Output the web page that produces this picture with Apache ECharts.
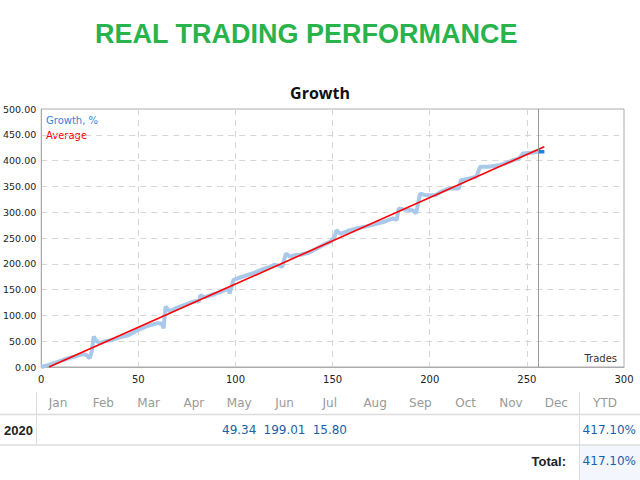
<!DOCTYPE html>
<html lang="en">
<head>
    <meta charset="UTF-8">
    <title>Growth</title>
    <script src="https://cdn.jsdelivr.net/npm/echarts@6/dist/echarts.min.js"></script>
    <style>
        html, body { margin: 0; padding: 0; background: #fff; }
        #main { width: 640px; height: 480px; }
    </style>
</head>
<body>
<div id="main"></div>
<script>
    // growth curve (trade number -> growth %)
    var tradeNo = [0, 4, 7, 10, 14, 18, 21, 23, 25, 26, 27, 28, 30, 33, 36, 40, 45, 50, 55, 60,
        62, 63, 64, 66, 70, 75, 78, 80, 81, 82, 84, 88, 92, 95, 96, 97, 99, 102, 106, 110,
        113, 117, 120, 123, 124, 126, 128, 131, 134, 138, 142, 146, 149, 150, 151, 152, 154, 158, 163, 168,
        173, 177, 181, 183, 184, 187, 191, 193, 195, 198, 203, 206, 210, 215, 216, 220, 224, 226, 230, 236,
        240, 243, 246, 248, 252, 256];
    var growthPct = [0, 4, 8, 12, 17, 21, 25, 24, 17, 30, 59, 52, 46, 50, 52, 57, 62, 72, 80, 85,
        84, 75, 117, 108, 115, 122, 126, 128, 126, 139, 135, 140, 145, 150, 152, 143, 169, 173, 178, 183,
        188, 193, 198, 196, 194, 220, 214, 217, 218, 222, 230, 238, 243, 248, 252, 265, 258, 264, 269, 273,
        278, 282, 288, 285, 307, 305, 304, 298, 336, 333, 333, 340, 346, 346, 362, 365, 369, 388, 388, 391,
        396, 401, 404, 414, 415, 417];
    // last (current) segment
    var lastTrades = [256, 259];
    var lastGrowth = [417, 417.1];
    // average trend line
    var avgTrades = [4, 259];
    var avgValues = [0, 427];
    var currentTrade = 256;

    // monthly table
    var months = ['Jan', 'Feb', 'Mar', 'Apr', 'May', 'Jun', 'Jul', 'Aug', 'Sep', 'Oct', 'Nov', 'Dec'];
    var year = '2020';
    var monthValues = [null, null, null, null, 49.34, 199.01, 15.80, null, null, null, null, null];
    var ytdValue = 417.10;
    var totalValue = 417.10;

    function pairs(xs, ys) {
        var out = [];
        for (var i = 0; i < xs.length; i++) out.push([xs[i], ys[i]]);
        return out;
    }

    var chart = echarts.init(document.getElementById('main'), null, {renderer: 'svg'});

    var tblFont = 'DejaVu Sans, Tahoma, sans-serif';
    var blue = '#1a5fa8';
    var graphics = [
        {type: 'text', left: 95, top: 20, style: {text: 'REAL TRADING PERFORMANCE', fill: '#28b34b',
            font: 'bold 27px "Liberation Sans", Arial, sans-serif'}},
        {type: 'text', x: 320, y: 93, style: {text: 'Growth', fill: '#111', textAlign: 'center', textVerticalAlign: 'middle',
            font: 'bold 16px "Open Sans", "DejaVu Sans", sans-serif'}},
        {type: 'text', x: 46, y: 120, style: {text: 'Growth, %', fill: '#3a7fd5', textVerticalAlign: 'middle',
            font: '10px ' + tblFont}},
        {type: 'text', x: 46, y: 135, style: {text: 'Average', fill: '#ff0000', textVerticalAlign: 'middle',
            font: '10px ' + tblFont}},
        {type: 'text', x: 617, y: 358, style: {text: 'Trades', fill: '#333', textAlign: 'right', textVerticalAlign: 'middle',
            font: '10px ' + tblFont}},
        // table lines
        {type: 'line', shape: {x1: 0, y1: 414.5, x2: 640, y2: 414.5}, style: {stroke: '#dcdcdc', lineWidth: 1.5}},
        {type: 'line', shape: {x1: 0, y1: 445, x2: 640, y2: 445}, style: {stroke: '#dcdcdc', lineWidth: 1.5}},
        {type: 'line', shape: {x1: 36.5, y1: 392, x2: 36.5, y2: 445}, style: {stroke: '#dcdcdc', lineWidth: 1}},
        {type: 'rect', shape: {x: 580, y: 446, width: 60, height: 34}, style: {fill: '#f3f6fc'}},
        {type: 'line', shape: {x1: 579.5, y1: 392, x2: 579.5, y2: 480}, style: {stroke: '#dcdcdc', lineWidth: 1}},
        {type: 'text', x: 605, y: 403, style: {text: 'YTD', fill: '#999', textAlign: 'center', textVerticalAlign: 'middle',
            font: '12px ' + tblFont}},
        {type: 'text', x: 4, y: 430, style: {text: year, fill: '#222', textVerticalAlign: 'middle',
            font: 'bold 13px "Liberation Sans", Arial, sans-serif'}},
        {type: 'text', x: 636, y: 430, style: {text: ytdValue.toFixed(2) + '%', fill: blue, textAlign: 'right', textVerticalAlign: 'middle',
            font: '12px ' + tblFont}},
        {type: 'text', x: 566, y: 461, style: {text: 'Total:', fill: '#222', textAlign: 'right', textVerticalAlign: 'middle',
            font: 'bold 13px "Liberation Sans", Arial, sans-serif'}},
        {type: 'text', x: 636, y: 461, style: {text: totalValue.toFixed(2) + '%', fill: blue, textAlign: 'right', textVerticalAlign: 'middle',
            font: '12px ' + tblFont}}
    ];
    months.forEach(function (m, i) {
        var cx = 58 + 45.3 * i;
        graphics.push({type: 'text', x: cx, y: 403, style: {text: m, fill: '#999', textAlign: 'center', textVerticalAlign: 'middle',
            font: '12px ' + tblFont}});
        if (monthValues[i] != null) {
            graphics.push({type: 'text', x: cx, y: 430, style: {text: monthValues[i].toFixed(2), fill: blue, textAlign: 'center',
                textVerticalAlign: 'middle', font: '12px ' + tblFont}});
        }
    });

    var option = {
        animation: false,
        backgroundColor: '#fff',
        grid: {left: 39, right: 16, top: 109, bottom: 113, show: true, borderColor: '#aaa', borderWidth: 1},
        xAxis: {
            type: 'value', min: 0, max: 300, interval: 50,
            axisLine: {show: true, lineStyle: {color: '#aaa'}},
            axisTick: {show: false},
            axisLabel: {color: '#222', fontSize: 10, fontFamily: tblFont, margin: 7},
            splitLine: {show: true, lineStyle: {color: '#d6d6d6', type: [6, 5]}}
        },
        yAxis: {
            type: 'value', min: 0, max: 500, interval: 50,
            axisLine: {show: true, lineStyle: {color: '#aaa'}},
            axisTick: {show: false},
            axisLabel: {color: '#222', fontSize: 9.5, fontFamily: tblFont, margin: 5,
                formatter: function (v) { return v.toFixed(2); }},
            splitLine: {show: true, lineStyle: {color: '#d6d6d6', type: [6, 5]}}
        },
        series: [
            {
                name: 'Growth, %', type: 'line', data: pairs(tradeNo, growthPct),
                showSymbol: false, symbol: 'none', z: 2,
                lineStyle: {color: '#a9c8ea', width: 4},
                markLine: {
                    silent: true, symbol: 'none', label: {show: false},
                    lineStyle: {color: '#999', width: 1, type: 'solid'},
                    data: [{xAxis: currentTrade}]
                }
            },
            {
                name: 'Current', type: 'line', data: pairs(lastTrades, lastGrowth),
                showSymbol: false, symbol: 'none', z: 3,
                lineStyle: {color: '#1f7fe8', width: 3.5}
            },
            {
                name: 'Average', type: 'line', data: pairs(avgTrades, avgValues),
                showSymbol: false, symbol: 'none', z: 4,
                lineStyle: {color: '#ff0000', width: 1.6}
            }
        ],
        graphic: graphics
    };
    chart.setOption(option);
</script>
</body>
</html>
